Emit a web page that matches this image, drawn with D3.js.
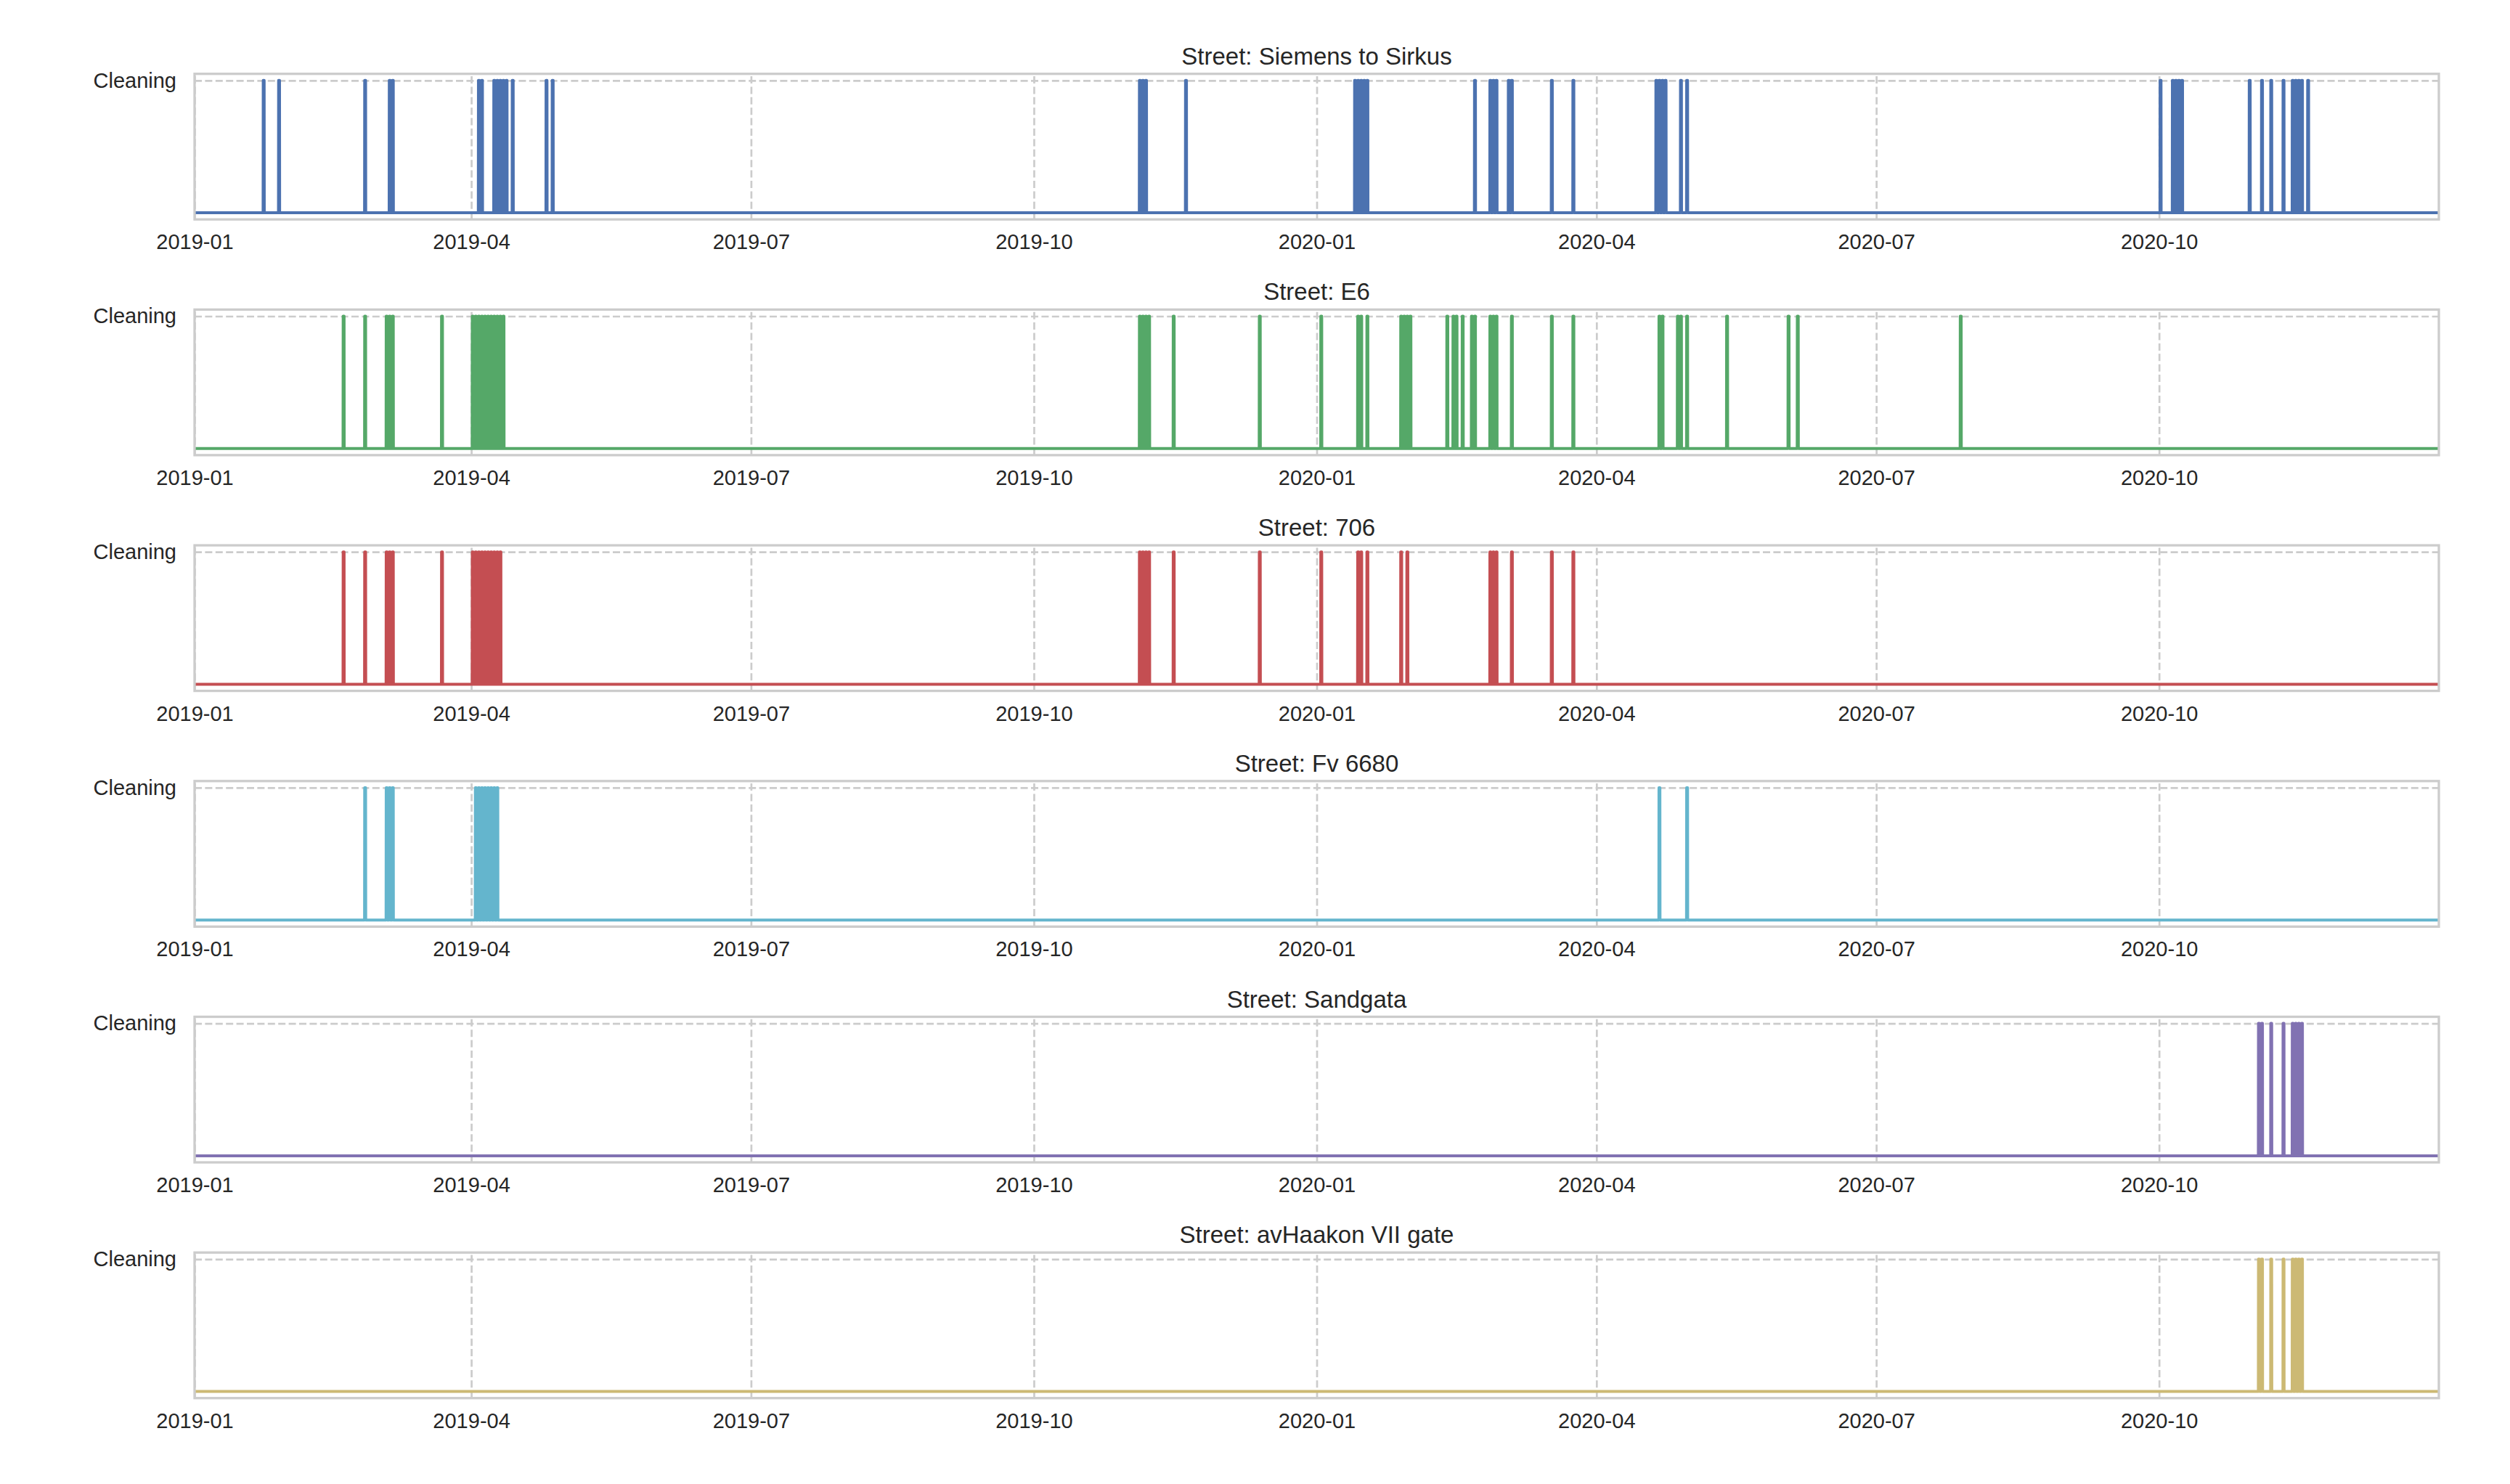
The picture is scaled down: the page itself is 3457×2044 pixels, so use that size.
<!DOCTYPE html>
<html>
<head>
<meta charset="utf-8">
<script src="https://cdn.jsdelivr.net/npm/d3@7"></script>
<style>
body { margin: 0; background: white; }
text { font-family: "Liberation Sans", Arial, Helvetica, sans-serif; fill: #262626; }
</style>
</head>
<body>
<script>
// streets and the seaborn colour codes b g r c m y
var streets = ["Siemens to Sirkus", "E6", "706", "Fv 6680", "Sandgata", "avHaakon VII gate"];
var colors = ["#4C72B0", "#55A868", "#C44E52", "#64B5CD", "#8172B2", "#CCB974"];

// days with a cleaning event
var siemensDays = ["2019-01-23", "2019-01-28", "2019-02-25", "2019-03-05", "2019-03-06",
  "2019-04-03", "2019-04-04", "2019-04-08", "2019-04-09", "2019-04-10", "2019-04-11", "2019-04-12",
  "2019-04-14", "2019-04-25", "2019-04-27", "2019-11-04", "2019-11-05", "2019-11-06", "2019-11-19",
  "2020-01-13", "2020-01-14", "2020-01-15", "2020-01-16", "2020-01-17", "2020-02-21",
  "2020-02-26", "2020-02-27", "2020-02-28", "2020-03-03", "2020-03-04", "2020-03-17", "2020-03-24",
  "2020-04-20", "2020-04-21", "2020-04-22", "2020-04-23", "2020-04-28", "2020-04-30",
  "2020-10-01", "2020-10-05", "2020-10-06", "2020-10-07", "2020-10-08", "2020-10-30",
  "2020-11-03", "2020-11-06", "2020-11-10", "2020-11-13", "2020-11-14", "2020-11-15",
  "2020-11-16", "2020-11-18"];
var e6Days = ["2019-02-18", "2019-02-25", "2019-03-04", "2019-03-05", "2019-03-06", "2019-03-22",
  "2019-04-01", "2019-04-02", "2019-04-03", "2019-04-04", "2019-04-05", "2019-04-06",
  "2019-04-07", "2019-04-08", "2019-04-09", "2019-04-10", "2019-04-11",
  "2019-11-04", "2019-11-05", "2019-11-06", "2019-11-07", "2019-11-15", "2019-12-13",
  "2020-01-02", "2020-01-14", "2020-01-15", "2020-01-17", "2020-01-28", "2020-01-29",
  "2020-01-30", "2020-01-31", "2020-02-12", "2020-02-14", "2020-02-15", "2020-02-17",
  "2020-02-20", "2020-02-21", "2020-02-26", "2020-02-27", "2020-02-28", "2020-03-04",
  "2020-03-17", "2020-03-24", "2020-04-21", "2020-04-22", "2020-04-27", "2020-04-28",
  "2020-04-30", "2020-05-13", "2020-06-02", "2020-06-05", "2020-07-28"];
var road706Days = ["2019-02-18", "2019-02-25", "2019-03-04", "2019-03-05", "2019-03-06", "2019-03-22",
  "2019-04-01", "2019-04-02", "2019-04-03", "2019-04-04", "2019-04-05", "2019-04-06",
  "2019-04-07", "2019-04-08", "2019-04-09", "2019-04-10",
  "2019-11-04", "2019-11-05", "2019-11-06", "2019-11-07", "2019-11-15", "2019-12-13",
  "2020-01-02", "2020-01-14", "2020-01-15", "2020-01-17", "2020-01-28", "2020-01-30",
  "2020-02-26", "2020-02-27", "2020-02-28", "2020-03-04", "2020-03-17", "2020-03-24"];
var fv6680Days = ["2019-02-25", "2019-03-04", "2019-03-05", "2019-03-06",
  "2019-04-02", "2019-04-03", "2019-04-04", "2019-04-05", "2019-04-06", "2019-04-07",
  "2019-04-08", "2019-04-09", "2020-04-21", "2020-04-30"];
var sandgataDays = ["2020-11-02", "2020-11-03", "2020-11-06", "2020-11-10",
  "2020-11-13", "2020-11-14", "2020-11-15", "2020-11-16"];
var haakonDays = ["2020-11-02", "2020-11-03", "2020-11-06", "2020-11-10",
  "2020-11-13", "2020-11-14", "2020-11-15", "2020-11-16"];
var cleaningDays = [siemensDays, e6Days, road706Days, fv6680Days, sandgataDays, haakonDays];

var startDate = "2019-01-01", endDate = "2020-12-31";
var xTicks = ["2019-01-01", "2019-04-01", "2019-07-01", "2019-10-01",
  "2020-01-01", "2020-04-01", "2020-07-01", "2020-10-01"];
var yTickLabel = "Cleaning";

var svgWidth = 3457, svgHeight = 2044;
var plotLeft = 268, plotRight = 3359;
var panelTop = 101.7, panelStep = 324.7, panelHeight = 200.5;
var plotWidth = plotRight - plotLeft;

var parse = d3.timeParse("%Y-%m-%d");

// each cleaning day becomes a short 0 -> 1 -> 0 pulse in the hourly state
function stateSeries(days) {
  var pts = [{t: parse(startDate), v: 0}];
  days.map(parse).sort(d3.ascending).forEach(function(d) {
    pts.push({t: d3.timeHour.offset(d, 7), v: 0});
    pts.push({t: d3.timeHour.offset(d, 8), v: 1});
    pts.push({t: d3.timeHour.offset(d, 15), v: 1});
    pts.push({t: d3.timeHour.offset(d, 16), v: 0});
  });
  pts.push({t: parse(endDate), v: 0});
  return pts;
}

var svg = d3.select("body")
  .append("svg")
  .attr("width", svgWidth)
  .attr("height", svgHeight)
  .style("background-color", "white");

var x = d3.scaleTime()
  .domain([parse(startDate), parse(endDate)])
  .range([0, plotWidth]);
var y = d3.scaleLinear()
  .domain([-0.05, 1.05])
  .range([panelHeight, 0]);

var line = d3.line()
  .x(d => x(d.t))
  .y(d => y(d.v));

streets.forEach(function(street, i) {
  var g = svg.append("g")
    .attr("transform", "translate(" + plotLeft + "," + (panelTop + i * panelStep) + ")");

  var xAxis = d3.axisBottom(x)
    .tickValues(xTicks.map(parse))
    .tickFormat(d3.timeFormat("%Y-%m"))
    .tickSize(-panelHeight)
    .tickPadding(20.4);
  var yAxis = d3.axisLeft(y)
    .tickValues([1])
    .tickFormat(() => yTickLabel)
    .tickSize(-plotWidth)
    .tickPadding(25);

  var gx = g.append("g")
    .attr("class", "x-axis")
    .attr("transform", "translate(0," + panelHeight + ")")
    .call(xAxis);
  var gy = g.append("g")
    .attr("class", "y-axis")
    .call(yAxis);

  [gx, gy].forEach(function(a) {
    a.select(".domain").remove();
    a.selectAll(".tick line")
      .attr("stroke", "#cccccc")
      .attr("stroke-width", 2.7)
      .attr("stroke-dasharray", "10,4.4");
    a.selectAll(".tick text")
      .attr("fill", "#262626")
      .style("font-size", "29px");
  });

  g.append("path")
    .datum(stateSeries(cleaningDays[i]))
    .attr("d", line)
    .attr("fill", "none")
    .attr("stroke", colors[i])
    .attr("stroke-width", 4)
    .attr("stroke-linejoin", "round");

  g.append("rect")
    .attr("x", 0)
    .attr("y", 0)
    .attr("width", plotWidth)
    .attr("height", panelHeight)
    .attr("fill", "none")
    .attr("stroke", "#cccccc")
    .attr("stroke-width", 3.3);

  g.append("text")
    .attr("x", plotWidth / 2)
    .attr("y", -13)
    .attr("text-anchor", "middle")
    .style("font-size", "33px")
    .text("Street: " + street);
});
</script>
</body>
</html>
